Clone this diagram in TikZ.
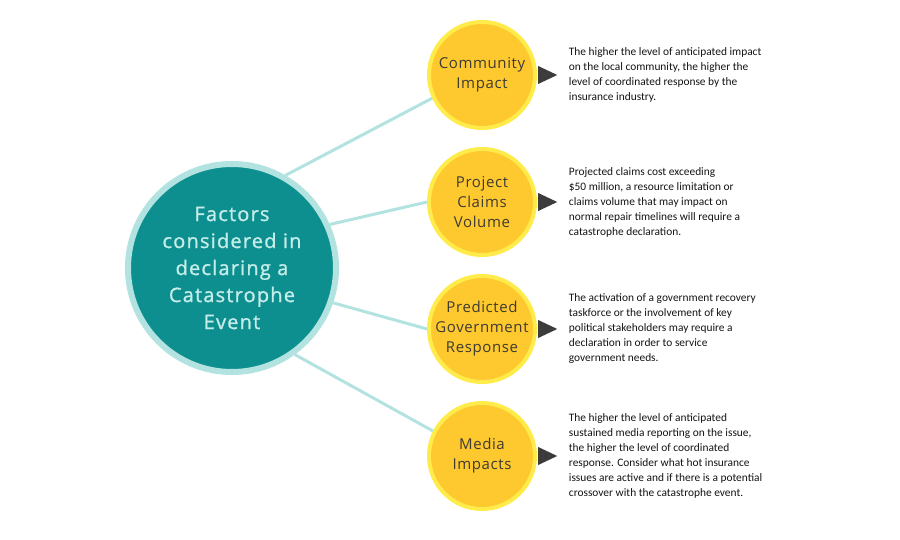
\documentclass[tikz,border=0pt]{standalone}
\usepackage{fontspec}
\setmainfont{Carlito}
\newfontfamily\hubfont[LetterSpace=6,FakeBold=1.2]{Open Sans}
\newfontfamily\factorfont[LetterSpace=4]{Open Sans}
\usepackage{tikz}
\usetikzlibrary{positioning,shapes.geometric,backgrounds}
\definecolor{tealfill}{HTML}{0E8F8F}
\definecolor{tealring}{HTML}{B3E3E0}
\definecolor{hubtext}{HTML}{C4ECE8}
\definecolor{yelfill}{HTML}{FEC82F}
\definecolor{yelring}{HTML}{FFEB4A}
\definecolor{yeltext}{HTML}{3E3B33}
\definecolor{darktri}{HTML}{3C3C3C}
\definecolor{desctext}{HTML}{141414}
\tikzset{
  hub/.style={circle,fill=tealfill,draw=tealring,line width=6pt,minimum size=208pt,inner sep=0pt,align=center,text=hubtext,font=\hubfont\fontsize{20}{27}\selectfont},
  factor/.style={circle,fill=yelfill,draw=yelring,line width=4pt,minimum size=106pt,inner sep=-10pt,align=center,text=yeltext,font=\factorfont\fontsize{15}{20}\selectfont},
  pointer/.style={isosceles triangle,isosceles triangle stretches,fill=darktri,minimum width=18pt,minimum height=19pt,inner sep=0pt},
  desc/.style={anchor=west,align=left,inner sep=0pt,text=desctext,font=\fontsize{11.4}{15}\selectfont},
  spoke/.style={line width=3pt,tealring},
}

\begin{document}
\begin{tikzpicture}[x=1pt,y=-1pt]
  \useasboundingbox (0,0) rectangle (900,540);

  \node[hub] (hub) at (232,268) {Factors\\considered in\\declaring a\\Catastrophe\\Event};

  \node[factor] (f1) at (482,75) {Community\\Impact};
  \node[factor] (f2) at (482,202) {Project\\Claims\\Volume};
  \node[factor] (f3) at (482,329) {Predicted\\Government\\Response};
  \node[factor] (f4) at (482,456) {Media\\Impacts};

  \node[pointer,right=1pt of f1] (p1) {};
  \node[pointer,right=1pt of f2] (p2) {};
  \node[pointer,right=1pt of f3] (p3) {};
  \node[pointer,right=1pt of f4] (p4) {};

  \node[desc,right=11pt of p1] (d1) {The higher the level of anticipated impact\\on the local community, the higher the\\level of coordinated response by the\\insurance industry.};
  \node[desc,right=11pt of p2] (d2) {Projected claims cost exceeding\\\$50 million, a resource limitation or\\claims volume that may impact on\\normal repair timelines will require a\\catastrophe declaration.};
  \node[desc,right=11pt of p3] (d3) {The activation of a government recovery\\taskforce or the involvement of key\\political stakeholders may require a\\declaration in order to service\\government needs.};
  \node[desc,right=11pt of p4] (d4) {The higher the level of anticipated\\sustained media reporting on the issue,\\the higher the level of coordinated\\response. Consider what hot insurance\\issues are active and if there is a potential\\crossover with the catastrophe event.};

  % spokes from the hub to each factor
  \begin{scope}[on background layer]
    \fill[white] (0,0) rectangle (900,540);
    \draw[spoke] (hub.60) -- (f1.205);
    \draw[spoke] (hub.24) -- (f2.180);
    \draw[spoke] (hub.-19) -- (f3.180);
    \draw[spoke] (hub.-54) -- (f4.153);
  \end{scope}
\end{tikzpicture}
\end{document}
